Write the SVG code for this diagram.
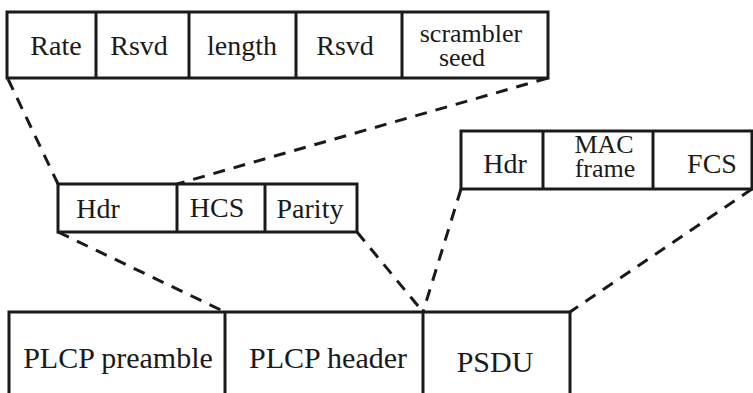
<svg xmlns="http://www.w3.org/2000/svg" width="753" height="393" viewBox="0 0 753 393">
<style>
.box{fill:#fff;stroke:#1a1a1a;stroke-width:3}
.div{stroke:#1a1a1a;stroke-width:3}
.dash{stroke:#1a1a1a;stroke-width:3;stroke-dasharray:12 9;fill:none}
.t{font-family:'Liberation Serif','Times New Roman','DejaVu Serif',serif;font-size:28px;fill:#1a1a1a;text-anchor:middle}
.big{font-size:30px}
.two{font-size:26px}
</style>
<rect width="753" height="393" fill="#fff"/>
<g id="connectors">
<line class="dash" x1="8" y1="79" x2="58" y2="184"/>
<line class="dash" x1="548" y1="78" x2="177" y2="184"/>
<line class="dash" x1="58" y1="232" x2="225" y2="312"/>
<line class="dash" x1="357" y1="232" x2="423" y2="312"/>
<line class="dash" x1="461" y1="189" x2="423" y2="312"/>
<line class="dash" x1="752" y1="189" x2="570" y2="312"/>
</g>
<g id="plcp-header-fields">
<rect class="box" x="7" y="12" width="541" height="66"/>
<line class="div" x1="96" y1="12" x2="96" y2="78"/>
<line class="div" x1="189" y1="12" x2="189" y2="78"/>
<line class="div" x1="296" y1="12" x2="296" y2="78"/>
<line class="div" x1="402" y1="12" x2="402" y2="78"/>
<text class="t" x="56" y="55">Rate</text>
<text class="t" x="139" y="55">Rsvd</text>
<text class="t" x="242" y="55">length</text>
<text class="t" x="345" y="55">Rsvd</text>
<text class="t two" x="471" y="42">scrambler</text>
<text class="t two" x="462" y="66">seed</text>
</g>
<g id="plcp-header">
<rect class="box" x="58" y="184" width="299" height="48"/>
<line class="div" x1="177" y1="184" x2="177" y2="232"/>
<line class="div" x1="265" y1="184" x2="265" y2="232"/>
<text class="t" x="98" y="218">Hdr</text>
<text class="t" x="217" y="217">HCS</text>
<text class="t" x="310" y="218">Parity</text>
</g>
<g id="psdu-fields">
<rect class="box" x="461" y="131" width="291" height="58"/>
<line class="div" x1="543" y1="131" x2="543" y2="189"/>
<line class="div" x1="653" y1="131" x2="653" y2="189"/>
<text class="t" x="505" y="173">Hdr</text>
<text class="t two" x="604" y="153">MAC</text>
<text class="t two" x="605" y="177">frame</text>
<text class="t" x="712" y="173">FCS</text>
</g>
<g id="plcp-frame">
<rect class="box" x="9" y="312" width="561" height="100"/>
<line class="div" x1="225" y1="312" x2="225" y2="393"/>
<line class="div" x1="423" y1="312" x2="423" y2="393"/>
<text class="t big" x="118" y="368">PLCP preamble</text>
<text class="t big" x="328" y="368">PLCP header</text>
<text class="t big" x="495" y="372">PSDU</text>
</g>
</svg>
